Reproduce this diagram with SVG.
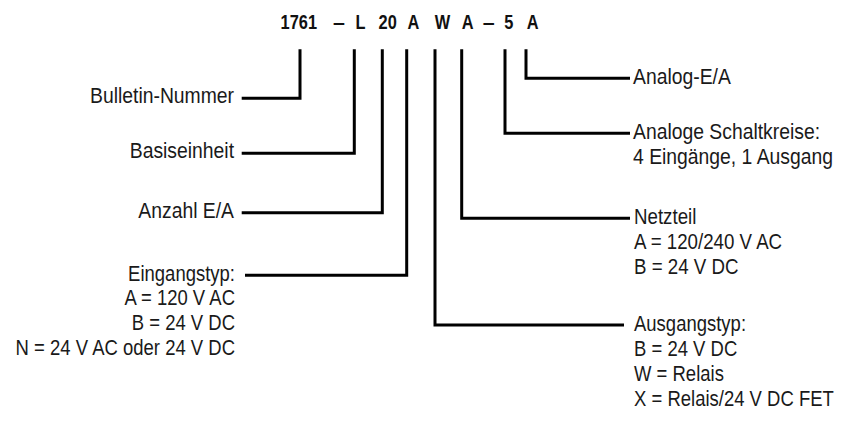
<svg xmlns="http://www.w3.org/2000/svg" width="844" height="422" viewBox="0 0 844 422">
<style>
.t{font-family:"Liberation Sans",Arial,sans-serif;font-size:21.5px;fill:#1a1a1a}
.e{text-anchor:end}
.c{font-family:"Liberation Sans",Arial,sans-serif;font-size:19.5px;font-weight:bold;fill:#111;text-anchor:middle}
.ln{fill:none;stroke:#000;stroke-width:3;stroke-linejoin:miter;stroke-linecap:butt}
</style>
<rect width="844" height="422" fill="#fff"/>
<g id="code">
<text class="c" transform="translate(298.8,28.5) scale(.84,1)">1761</text>
<text class="c" transform="translate(339,28.5) scale(1.1,1)">–</text>
<text class="c" transform="translate(360.5,28.5) scale(.84,1)">L</text>
<text class="c" transform="translate(387.7,28.5) scale(.84,1)">20</text>
<text class="c" transform="translate(413.3,28.5) scale(.84,1)">A</text>
<text class="c" transform="translate(442.5,28.5) scale(.84,1)">W</text>
<text class="c" transform="translate(467.7,28.5) scale(.84,1)">A</text>
<text class="c" transform="translate(488.7,28.5) scale(1.1,1)">–</text>
<text class="c" transform="translate(508.8,28.5) scale(.84,1)">5</text>
<text class="c" transform="translate(532.7,28.5) scale(.84,1)">A</text>
</g>
<g id="connectors">
<path class="ln" d="M241.7,98.3H300V49.3"/>
<path class="ln" d="M241.7,153.3H354.3V49.3"/>
<path class="ln" d="M241.7,212.7H382.3V49.3"/>
<path class="ln" d="M245,275.3H406.7V49.3"/>
<path class="ln" d="M435,49.3V325H624"/>
<path class="ln" d="M461.7,49.3V218.3H630"/>
<path class="ln" d="M505,49.3V133.3H630"/>
<path class="ln" d="M526,49.3V78.3H630"/>
</g>
<g id="bulletin"><text class="t e" transform="translate(234,103.3) scale(.9,1)">Bulletin-Nummer</text></g>
<g id="basis"><text class="t e" transform="translate(234,158.3) scale(.9,1)">Basiseinheit</text></g>
<g id="anzahl"><text class="t e" transform="translate(234,218) scale(.9,1)">Anzahl E/A</text></g>
<g id="eingang"><text class="t e" transform="translate(235,280.5) scale(.86,1)"><tspan x="0" y="0">Eingangstyp:</tspan><tspan x="0" y="25">A = 120 V AC</tspan><tspan x="0" y="50">B = 24 V DC</tspan><tspan x="0" y="75">N = 24 V AC oder 24 V DC</tspan></text></g>
<g id="analog-ea"><text class="t" transform="translate(633,84) scale(.9,1)">Analog-E/A</text></g>
<g id="analog-kreise"><text class="t" transform="translate(633,139) scale(.9,1)"><tspan x="0" y="0">Analoge Schaltkreise:</tspan><tspan x="0" y="25">4 Eingänge, 1 Ausgang</tspan></text></g>
<g id="netzteil"><text class="t" transform="translate(634,224) scale(.87,1)"><tspan x="0" y="0">Netzteil</tspan><tspan x="0" y="25">A = 120/240 V AC</tspan><tspan x="0" y="50">B = 24 V DC</tspan></text></g>
<g id="ausgang"><text class="t" transform="translate(634,331) scale(.86,1)"><tspan x="0" y="0">Ausgangstyp:</tspan><tspan x="0" y="25">B = 24 V DC</tspan><tspan x="0" y="50">W = Relais</tspan><tspan x="0" y="75">X = Relais/24 V DC FET</tspan></text></g>
</svg>
